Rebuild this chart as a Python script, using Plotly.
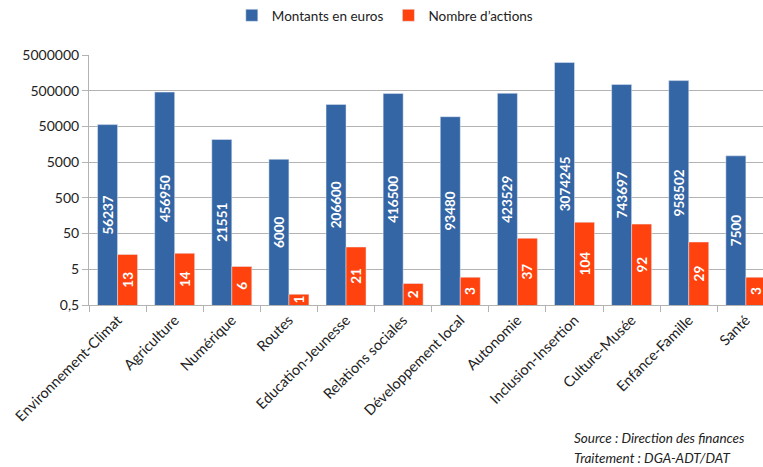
import plotly.graph_objects as go

categories = ["Environnement-Climat", "Agriculture", "Numérique", "Routes",
              "Education-Jeunesse", "Relations sociales", "Développement local",
              "Autonomie", "Inclusion-Insertion", "Culture-Musée",
              "Enfance-Famille", "Santé"]
montants = [56237, 456950, 21551, 6000, 206600, 416500, 93480, 423529,
            3074245, 743697, 958502, 7500]
actions = [13, 14, 6, 1, 21, 2, 3, 37, 104, 92, 29, 3]
ytick_vals = [0.5, 5, 50, 500, 5000, 50000, 500000, 5000000]
ytick_text = ["0,5", "5", "50", "500", "5000", "50000", "500000", "5000000"]

FONT = "Lato, 'Open Sans', sans-serif"
BLUE = "#3465a4"
RED = "#ff420e"

fig = go.Figure()
fig.add_trace(go.Bar(
    name="Montants en euros", x=categories, y=montants, marker_color=BLUE,
    text=[str(v) for v in montants], textposition="inside",
    insidetextanchor="middle", textangle=-90, constraintext="none",
    textfont=dict(color="white", size=13.5, family=FONT, weight="bold")))
fig.add_trace(go.Bar(
    name="Nombre d’actions", x=categories, y=actions, marker_color=RED,
    text=[str(v) for v in actions], textposition="inside",
    insidetextanchor="middle", textangle=-90, constraintext="none",
    textfont=dict(color="white", size=13.5, family=FONT, weight="bold")))

fig.update_layout(
    width=763, height=467,
    margin=dict(l=89, r=0, t=55, b=162, autoexpand=False),
    paper_bgcolor="white", plot_bgcolor="white",
    barmode="group", bargap=0.3, bargroupgap=0,
    font=dict(family=FONT, size=13, color="#222"),
    legend=dict(orientation="h", xref="container", yref="container",
                x=0.505, xanchor="center", y=1.0, yanchor="top",
                font=dict(size=13.5, family=FONT, color="#222"),
                itemwidth=30, traceorder="normal"),
    showlegend=True,
)
fig.update_yaxes(
    type="log", range=[-0.30103, 6.69897], automargin=False,
    tickvals=ytick_vals, ticktext=ytick_text,
    showgrid=True, gridcolor="#b3b3b3", gridwidth=1,
    showline=True, linecolor="#b3b3b3", linewidth=1,
    ticks="outside", ticklen=6, tickcolor="#b3b3b3",
    tickfont=dict(size=14, family=FONT, color="#222"),
    zeroline=False)
fig.update_xaxes(
    range=[-0.5, 11.3], automargin=False,
    showline=True, linecolor="#b3b3b3", linewidth=1,
    ticks="outside", ticklen=6, tickcolor="#b3b3b3", tickson="boundaries",
    tickangle=-45, tickfont=dict(size=14.5, family=FONT, color="#222"),
    showgrid=False)

# annotation positions in paper coords (plot: x 89..763, y 55..305)
fig.add_annotation(text="<i>Source : Direction des finances</i>",
                   xref="paper", yref="paper", x=0.7166, y=-0.532,
                   xanchor="left", yanchor="middle", showarrow=False,
                   font=dict(size=13.5, family=FONT, color="#222"))
fig.add_annotation(text="<i>Traitement : DGA-ADT/DAT</i>",
                   xref="paper", yref="paper", x=0.7166, y=-0.612,
                   xanchor="left", yanchor="middle", showarrow=False,
                   font=dict(size=13.5, family=FONT, color="#222"))

fig.write_html(
    "out.html",
    config={"displayModeBar": False},
    post_script="document.body.style.margin='0';document.body.style.overflow='hidden';",
)
